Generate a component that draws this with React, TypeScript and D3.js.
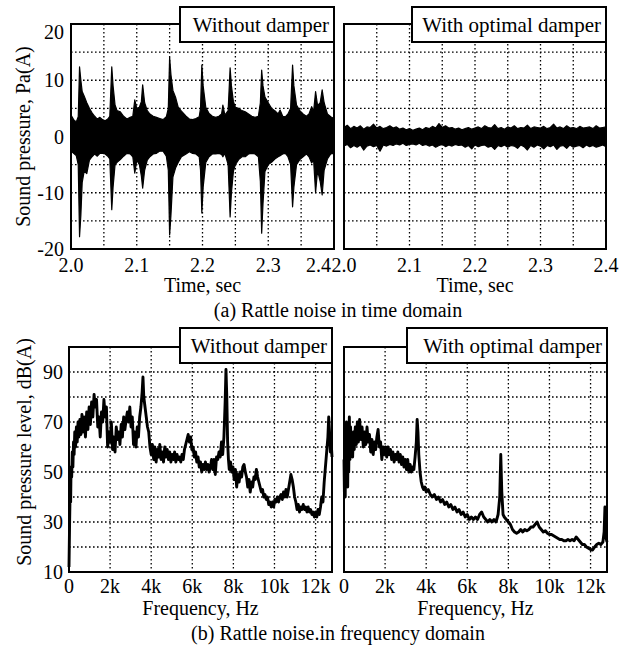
import React from 'react';
import * as d3 from 'd3';

// ---------- data ----------
const timeTickValues = [2.0, 2.1, 2.2, 2.3, 2.4];
const timeGridValues = [2.05, 2.1, 2.15, 2.2, 2.25, 2.3, 2.35];
const pressureTickValues = [-20, -10, 0, 10, 20];
const pressureGridValues = [-15, -10, -5, 0, 5, 10, 15];
const freqTickValues = [0, 2000, 4000, 6000, 8000, 10000, 12000];
const freqTickLabels = ['0', '2k', '4k', '6k', '8k', '10k', '12k'];
const freqGridValues = [2000, 4000, 6000, 8000, 10000, 12000];
const dbTickValues = [10, 30, 50, 70, 90];
const dbGridValues = [20, 30, 40, 50, 60, 70, 80, 90];

// Without damper: time-signal envelope (time s, upper Pa, lower Pa)
const noDamperTime = [
  2.000, 2.004, 2.008, 2.011, 2.013, 2.015, 2.017, 2.020, 2.024, 2.028, 2.032, 2.036, 2.040, 2.044, 2.048,
  2.052, 2.056, 2.059, 2.062, 2.064, 2.067, 2.070, 2.075, 2.080, 2.085, 2.090, 2.094, 2.097, 2.100, 2.104,
  2.107, 2.109, 2.112, 2.116, 2.120, 2.125, 2.130, 2.135, 2.140, 2.145, 2.148, 2.150, 2.152, 2.155, 2.159,
  2.163, 2.168, 2.175, 2.180, 2.185, 2.190, 2.195, 2.197, 2.199, 2.201, 2.205, 2.210, 2.215, 2.220, 2.225,
  2.229, 2.231, 2.234, 2.239, 2.242, 2.244, 2.247, 2.250, 2.255, 2.260, 2.265, 2.270, 2.275, 2.280, 2.285,
  2.288, 2.290, 2.292, 2.295, 2.300, 2.305, 2.310, 2.315, 2.318, 2.322, 2.326, 2.330, 2.334, 2.337, 2.339,
  2.343, 2.348, 2.353, 2.358, 2.362, 2.366, 2.369, 2.372, 2.375, 2.379, 2.382, 2.385, 2.390, 2.395, 2.400,
];
const noDamperHi = [
  3.8, 3.0, 2.6, 3.5, 12.4, 10.0, 8.0, 7.2, 6.0, 5.0, 4.2, 3.6, 3.1, 3.4, 3.0,
  2.8, 3.1, 3.6, 12.4, 9.0, 5.6, 4.6, 4.4, 3.6, 3.1, 3.4, 3.6, 6.5, 5.0, 5.2,
  6.2, 9.2, 6.0, 4.6, 4.0, 3.6, 3.4, 3.2, 3.0, 3.5, 5.0, 14.1, 11.0, 8.2, 7.0,
  5.2, 4.5, 3.6, 3.1, 3.0, 3.2, 3.5, 5.0, 12.7, 9.0, 5.2, 4.1, 3.6, 3.4, 3.6,
  4.0, 5.6, 3.8, 4.6, 12.2, 9.0, 6.2, 5.2, 5.0, 4.6, 4.4, 4.0, 3.6, 3.4, 3.6,
  6.0, 11.8, 9.0, 7.0, 6.0, 5.0, 4.6, 4.0, 4.7, 3.6, 3.5, 4.0, 5.0, 12.7, 9.0,
  5.6, 4.6, 4.0, 3.6, 4.0, 5.3, 4.5, 8.0, 5.5, 6.0, 8.3, 6.0, 4.0, 3.5, 3.2,
];
const noDamperLo = [
  -2.6, -3.0, -3.4, -5.0, -17.8, -14.0, -8.2, -6.2, -6.6, -4.2, -3.6, -3.1, -3.5, -3.0, -3.0,
  -3.1, -3.5, -4.0, -13.0, -9.0, -5.0, -4.6, -4.1, -3.5, -3.0, -3.1, -3.6, -6.5, -4.2, -5.0,
  -7.0, -9.2, -6.0, -4.2, -3.6, -3.1, -3.0, -2.6, -2.6, -3.5, -6.0, -17.5, -14.0, -7.2, -5.6,
  -4.6, -3.6, -3.1, -2.7, -3.0, -3.1, -3.6, -6.0, -13.6, -9.0, -4.6, -3.6, -3.1, -3.1, -3.0,
  -3.2, -3.6, -3.0, -5.0, -14.3, -10.0, -6.2, -5.0, -4.1, -3.6, -3.6, -3.1, -3.0, -3.1, -3.6,
  -8.0, -17.2, -12.0, -6.2, -5.0, -4.6, -4.0, -3.6, -3.4, -3.1, -3.0, -3.6, -5.0, -12.5, -9.0,
  -5.0, -4.1, -3.6, -3.1, -3.6, -4.7, -4.2, -10.0, -6.0, -8.0, -10.4, -6.0, -4.0, -3.1, -3.0,
];

// With optimal damper: time-signal envelope sampled every 5 ms from 2.0 s
const damperStart = 2.0;
const damperStep = 0.005;
const damperHi = [
  1.6, 2.0, 1.4, 1.8, 1.5, 1.9, 1.3, 1.7, 1.6, 2.2, 1.5, 1.8, 1.4, 1.6, 1.9, 1.5, 1.7, 1.3, 1.5, 1.2,
  1.4, 1.1, 1.3, 1.5, 1.2, 1.6, 1.4, 1.8, 1.5, 2.3, 1.6, 1.9, 1.5, 1.6, 1.3, 1.5, 1.2, 1.4, 1.6, 1.3,
  1.5, 1.7, 1.4, 1.9, 1.6, 1.5, 2.1, 1.4, 1.6, 1.3, 1.7, 1.5, 1.9, 1.4, 1.6, 1.5, 2.0, 1.4, 1.7, 1.6,
  1.5, 1.8, 1.4, 1.6, 2.2, 1.5, 1.7, 1.4, 1.9, 1.5, 1.6, 1.4, 1.8, 1.5, 1.6, 1.7, 1.4, 1.9, 1.5, 1.6,
  1.7,
];
const damperLo = [
  -1.7, -1.4, -2.0, -1.6, -1.9, -1.5, -2.4, -1.7, -1.5, -1.8, -1.6, -2.6, -1.5, -1.7, -1.4, -1.6, -1.3, -1.5, -1.2, -1.6,
  -1.4, -1.3, -1.5, -1.2, -1.6, -1.4, -1.7, -1.5, -1.9, -1.6, -1.4, -1.8, -1.5, -1.7, -1.4, -1.6, -1.5, -1.9, -1.6, -2.2,
  -1.5, -1.8, -1.6, -1.5, -1.9, -1.7, -2.3, -1.6, -1.8, -1.5, -1.9, -1.6, -1.7, -2.1, -1.5, -1.8, -2.4, -1.6, -1.9, -1.5,
  -1.7, -2.2, -1.6, -1.8, -1.5, -2.3, -1.7, -1.6, -2.1, -1.5, -1.9, -1.7, -1.6, -2.0, -1.5, -1.8, -1.6, -1.9, -1.7, -1.5,
  -1.8,
];

// Spectra (frequency kHz, level dB(A))
const noDamperFreq = [
  0.00, 0.03, 0.06, 0.08, 0.10, 0.13, 0.16, 0.19, 0.22, 0.25, 0.28, 0.32, 0.36, 0.40, 0.44, 0.48, 0.53, 0.58, 0.63, 0.68,
  0.74, 0.80, 0.86, 0.92, 0.98, 1.04, 1.10, 1.16, 1.22, 1.28, 1.34, 1.40, 1.46, 1.52, 1.58, 1.64, 1.70, 1.76, 1.82, 1.88,
  1.94, 2.00, 2.06, 2.12, 2.18, 2.24, 2.30, 2.36, 2.42, 2.48, 2.54, 2.60, 2.66, 2.72, 2.78, 2.84, 2.90, 2.96, 3.02, 3.08,
  3.14, 3.20, 3.26, 3.32, 3.38, 3.44, 3.50, 3.56, 3.60, 3.64, 3.70, 3.76, 3.82, 3.88, 3.94, 4.00, 4.06, 4.12, 4.18, 4.24,
  4.30, 4.36, 4.42, 4.48, 4.54, 4.60, 4.66, 4.72, 4.78, 4.84, 4.90, 4.96, 5.02, 5.08, 5.14, 5.20, 5.26, 5.32, 5.38, 5.44,
  5.50, 5.56, 5.62, 5.68, 5.74, 5.80, 5.86, 5.92, 5.98, 6.04, 6.10, 6.16, 6.22, 6.28, 6.34, 6.40, 6.46, 6.52, 6.58, 6.64,
  6.70, 6.76, 6.82, 6.88, 6.94, 7.00, 7.06, 7.12, 7.18, 7.24, 7.30, 7.36, 7.42, 7.48, 7.54, 7.60, 7.64, 7.68, 7.72, 7.76,
  7.80, 7.86, 7.92, 7.98, 8.04, 8.10, 8.16, 8.22, 8.28, 8.34, 8.40, 8.46, 8.52, 8.58, 8.64, 8.70, 8.76, 8.82, 8.88, 8.94,
  9.00, 9.06, 9.12, 9.18, 9.24, 9.30, 9.36, 9.42, 9.48, 9.54, 9.60, 9.66, 9.72, 9.78, 9.84, 9.90, 9.96, 10.02, 10.08, 10.14,
  10.20, 10.26, 10.32, 10.38, 10.44, 10.50, 10.56, 10.62, 10.68, 10.74, 10.80, 10.86, 10.92, 10.98, 11.04, 11.10, 11.16, 11.22, 11.28, 11.34,
  11.40, 11.46, 11.52, 11.58, 11.64, 11.70, 11.76, 11.82, 11.88, 11.94, 12.00, 12.06, 12.12, 12.18, 12.24, 12.30, 12.36, 12.42, 12.48, 12.54,
  12.60, 12.64, 12.68, 12.72, 12.76, 12.80,
];
const noDamperDb = [
  12, 30, 45, 38, 52, 48, 58, 52, 62, 57, 66, 60, 68, 62, 70, 64, 71, 65, 73, 66,
  72, 64, 74, 67, 76, 69, 78, 72, 81, 76, 79, 68, 72, 64, 74, 70, 79, 72, 76, 60,
  66, 62, 70, 59, 64, 58, 68, 63, 66, 61, 69, 64, 72, 67, 71, 74, 70, 76, 68, 72,
  61, 66, 60, 68, 64, 72, 76, 82, 88, 80, 76, 72, 68, 66, 60, 57, 61, 55, 60, 54,
  59, 56, 61, 55, 58, 54, 60, 56, 59, 55, 58, 54, 57, 55, 58, 54, 57, 55, 56, 54,
  57, 55, 59, 61, 63, 65, 62, 64, 59, 60, 56, 58, 54, 56, 52, 54, 50, 53, 51, 54,
  51, 53, 50, 52, 55, 51, 55, 49, 56, 55, 58, 56, 62, 57, 64, 78, 91, 80, 62, 55,
  51, 54, 50, 52, 47, 51, 44, 49, 46, 50, 48, 52, 53, 50, 48, 44, 47, 42, 46, 44,
  48, 47, 51, 48, 46, 44, 42, 43, 40, 41, 39, 40, 37, 38, 36, 38, 36, 39, 38, 40,
  38, 40, 41, 39, 42, 40, 43, 40, 43, 46, 49, 47, 44, 40, 38, 35, 37, 34, 36, 35,
  37, 35, 36, 34, 36, 34, 35, 33, 34, 32, 34, 32, 35, 33, 36, 40, 38, 46, 52, 58,
  64, 72, 66, 58, 62, 56,
];

const damperFreq = [
  0.00, 0.02, 0.04, 0.06, 0.08, 0.10, 0.12, 0.14, 0.16, 0.18, 0.20, 0.23, 0.26, 0.29, 0.32, 0.35, 0.38, 0.42, 0.46, 0.50,
  0.55, 0.60, 0.65, 0.70, 0.76, 0.82, 0.88, 0.94, 1.00, 1.06, 1.12, 1.18, 1.24, 1.30, 1.36, 1.42, 1.48, 1.54, 1.60, 1.66,
  1.72, 1.78, 1.84, 1.90, 1.96, 2.02, 2.08, 2.14, 2.20, 2.26, 2.32, 2.38, 2.44, 2.50, 2.56, 2.62, 2.68, 2.74, 2.80, 2.86,
  2.92, 2.98, 3.04, 3.10, 3.16, 3.22, 3.28, 3.34, 3.40, 3.46, 3.52, 3.56, 3.60, 3.64, 3.70, 3.76, 3.82, 3.88, 3.94, 4.00,
  4.10, 4.20, 4.30, 4.40, 4.50, 4.60, 4.70, 4.80, 4.90, 5.00, 5.10, 5.20, 5.30, 5.40, 5.50, 5.60, 5.70, 5.80, 5.90, 6.00,
  6.10, 6.20, 6.30, 6.40, 6.50, 6.60, 6.70, 6.80, 6.90, 7.00, 7.10, 7.20, 7.30, 7.40, 7.50, 7.58, 7.63, 7.68, 7.74, 7.80,
  7.90, 8.00, 8.10, 8.20, 8.30, 8.40, 8.50, 8.60, 8.70, 8.80, 8.90, 9.00, 9.10, 9.20, 9.30, 9.40, 9.50, 9.60, 9.70, 9.80,
  9.90, 10.00, 10.10, 10.20, 10.30, 10.40, 10.50, 10.60, 10.70, 10.80, 10.90, 11.00, 11.10, 11.20, 11.30, 11.40, 11.50, 11.60, 11.70, 11.80,
  11.90, 12.00, 12.10, 12.20, 12.30, 12.40, 12.50, 12.60, 12.66, 12.70, 12.74, 12.80,
];
const damperDb = [
  55, 42, 60, 40, 68, 45, 70, 48, 62, 44, 66, 50, 72, 55, 68, 58, 64, 56, 66, 59,
  68, 61, 70, 62, 71, 63, 68, 60, 66, 61, 68, 62, 65, 58, 63, 57, 62, 59, 64, 67,
  60, 62, 55, 60, 57, 60, 56, 60, 57, 59, 55, 58, 54, 57, 55, 58, 54, 57, 53, 56,
  52, 55, 51, 55, 50, 53, 50, 52, 51, 56, 62, 71, 66, 57, 50, 46, 44, 43, 44, 42,
  43, 41, 40, 41, 39, 40, 38, 39, 37, 38, 36, 37, 35, 36, 34, 35, 33, 34, 32, 33,
  31, 32, 31, 32, 31, 33, 34, 32, 31, 30, 31, 30, 31, 30, 33, 40, 57, 42, 33, 32,
  31, 30, 29, 27, 26, 25.5, 26, 27, 26, 27, 26.5, 27, 28, 28, 29, 30, 28, 27, 26, 26.5,
  25.5, 25, 25, 24.5, 24, 23.5, 23, 23, 22.5, 22.5, 23, 22.5, 23, 22.5, 24, 23, 22, 21, 21, 20,
  19.5, 19, 18.8, 20, 21, 21.5, 21, 22, 26, 36, 24, 22,
];

// ---------- layout ----------
const W = 627;
const H = 648;
const FONT = "'Liberation Serif', 'Times New Roman', serif";

type Panel = { x0: number; x1: number; y0: number; y1: number };
const pTL: Panel = { x0: 71, x1: 334, y0: 24, y1: 249 };
const pTR: Panel = { x0: 344, x1: 606, y0: 24, y1: 249 };
const pBL: Panel = { x0: 69, x1: 332, y0: 347, y1: 572 };
const pBR: Panel = { x0: 344, x1: 607, y0: 347, y1: 572 };

function Grid({ p, xs, ys, xVals, yVals }: any) {
  return (
    <g stroke="#000" strokeWidth={1.3} strokeDasharray="1.6,2.4" fill="none">
      {xVals.map((v: number, i: number) => (
        <line key={'x' + i} x1={xs(v)} x2={xs(v)} y1={p.y0} y2={p.y1} />
      ))}
      {yVals.map((v: number, i: number) => (
        <line key={'y' + i} x1={p.x0} x2={p.x1} y1={ys(v)} y2={ys(v)} />
      ))}
    </g>
  );
}

function Frame({ p }: { p: Panel }) {
  return <rect x={p.x0} y={p.y0} width={p.x1 - p.x0} height={p.y1 - p.y0} fill="none" stroke="#000" strokeWidth={2} />;
}

function LegendBox({ x0, x1, y0, y1, label }: any) {
  return (
    <g>
      <rect x={x0} y={y0} width={x1 - x0} height={y1 - y0} fill="#fff" stroke="#000" strokeWidth={2} />
      <text x={x1 - 5} y={y0 + 25} textAnchor="end" fontFamily={FONT} fontSize={21}>{label}</text>
    </g>
  );
}

export default function App() {
  // time-domain scales
  const xTL = d3.scaleLinear().domain([2.0, 2.4]).range([pTL.x0, pTL.x1]);
  const xTR = d3.scaleLinear().domain([2.0, 2.4]).range([pTR.x0, pTR.x1]);
  const yT = d3.scaleLinear().domain([-20, 20]).range([pTL.y1, pTL.y0]);
  // frequency-domain scales
  const xBL = d3.scaleLinear().domain([0, 12800]).range([pBL.x0, pBL.x1]);
  const xBR = d3.scaleLinear().domain([0, 12800]).range([pBR.x0, pBR.x1]);
  const yB = d3.scaleLinear().domain([10, 100]).range([pBL.y1, pBL.y0]);

  const noDamperSig = noDamperTime.map((t, i) => ({ t, hi: noDamperHi[i], lo: noDamperLo[i] }));
  const n = Math.min(damperHi.length, damperLo.length);
  const damperSig = damperHi.slice(0, n).map((hi, i) => ({ t: damperStart + i * damperStep, hi, lo: damperLo[i] }));

  const areaTL = d3.area<any>().x((d) => xTL(d.t)).y0((d) => yT(d.lo)).y1((d) => yT(d.hi));
  const areaTR = d3.area<any>().x((d) => xTR(d.t)).y0((d) => yT(d.lo)).y1((d) => yT(d.hi));

  const specL = noDamperFreq.map((f, i) => ({ f: f * 1000, db: noDamperDb[i] }));
  const specR = damperFreq.map((f, i) => ({ f: f * 1000, db: damperDb[i] }));
  const lineBL = d3.line<any>().x((d) => xBL(d.f)).y((d) => yB(d.db));
  const lineBR = d3.line<any>().x((d) => xBR(d.f)).y((d) => yB(d.db));

  const txt = { fontFamily: FONT, fontSize: 20, fill: '#000' } as const;
  const lastT = timeTickValues.length - 1;

  return (
    <svg width={W} height={H} style={{ position: 'absolute', left: 0, top: 0, background: '#fff' }}>
      <rect x={0} y={0} width={W} height={H} fill="#fff" />

      {/* ---- top left ---- */}
      <Grid p={pTL} xs={xTL} ys={yT} xVals={timeGridValues} yVals={pressureGridValues} />
      <path d={areaTL(noDamperSig) || ''} fill="#000" stroke="#000" strokeWidth={1.2} strokeLinejoin="round" />
      <Frame p={pTL} />
      {pressureTickValues.map((v) => (
        <text key={v} {...txt} x={pTL.x0 - 7} y={Math.max(yT(v), pTL.y0 + 8) + 7} textAnchor="end">{v}</text>
      ))}
      {timeTickValues.map((v, i) => (
        <text key={v} {...txt} x={i === lastT ? xTL(v) - 3 : xTL(v)} y={pTL.y1 + 23} textAnchor={i === lastT ? 'end' : 'middle'}>{v.toFixed(1)}</text>
      ))}
      <text {...txt} x={(pTL.x0 + pTL.x1) / 2} y={292} textAnchor="middle">Time, sec</text>
      <text {...txt} transform={`translate(30, ${(pTL.y0 + pTL.y1) / 2}) rotate(-90)`} textAnchor="middle">Sound pressure, Pa(A)</text>
      <LegendBox x0={180} x1={pTL.x1} y0={7} y1={42} label="Without damper" />

      {/* ---- top right ---- */}
      <Grid p={pTR} xs={xTR} ys={yT} xVals={timeGridValues} yVals={pressureGridValues} />
      <path d={areaTR(damperSig) || ''} fill="#000" stroke="#000" strokeWidth={1.2} strokeLinejoin="round" />
      <Frame p={pTR} />
      {timeTickValues.map((v) => (
        <text key={v} {...txt} x={xTR(v)} y={pTR.y1 + 23} textAnchor="middle">{v.toFixed(1)}</text>
      ))}
      <text {...txt} x={(pTR.x0 + pTR.x1) / 2} y={292} textAnchor="middle">Time, sec</text>
      <LegendBox x0={412} x1={pTR.x1} y0={7} y1={42} label="With optimal damper" />

      <text {...txt} x={338} y={317} textAnchor="middle">(a) Rattle noise in time domain</text>

      {/* ---- bottom left ---- */}
      <Grid p={pBL} xs={xBL} ys={yB} xVals={freqGridValues} yVals={dbGridValues} />
      <path d={lineBL(specL) || ''} fill="none" stroke="#000" strokeWidth={2.9} strokeLinejoin="round" />
      <Frame p={pBL} />
      {dbTickValues.map((v) => (
        <text key={v} {...txt} x={pBL.x0 - 6} y={yB(v) + 7} textAnchor="end">{v}</text>
      ))}
      {freqTickValues.map((v, i) => (
        <text key={v} {...txt} x={xBL(v)} y={pBL.y1 + 21} textAnchor="middle">{freqTickLabels[i]}</text>
      ))}
      <text {...txt} x={(pBL.x0 + pBL.x1) / 2} y={615} textAnchor="middle">Frequency, Hz</text>
      <text {...txt} transform={`translate(31, 452) rotate(-90)`} textAnchor="middle">Sound pressure level, dB(A)</text>
      <LegendBox x0={180} x1={pBL.x1} y0={328} y1={363} label="Without damper" />

      {/* ---- bottom right ---- */}
      <Grid p={pBR} xs={xBR} ys={yB} xVals={freqGridValues} yVals={dbGridValues} />
      <path d={lineBR(specR) || ''} fill="none" stroke="#000" strokeWidth={2.9} strokeLinejoin="round" />
      <Frame p={pBR} />
      {freqTickValues.map((v, i) => (
        <text key={v} {...txt} x={xBR(v)} y={pBR.y1 + 21} textAnchor="middle">{freqTickLabels[i]}</text>
      ))}
      <text {...txt} x={(pBR.x0 + pBR.x1) / 2} y={615} textAnchor="middle">Frequency, Hz</text>
      <LegendBox x0={407} x1={pBR.x1} y0={328} y1={363} label="With optimal damper" />

      <text {...txt} x={338} y={640} textAnchor="middle">(b) Rattle noise.in frequency domain</text>
    </svg>
  );
}
